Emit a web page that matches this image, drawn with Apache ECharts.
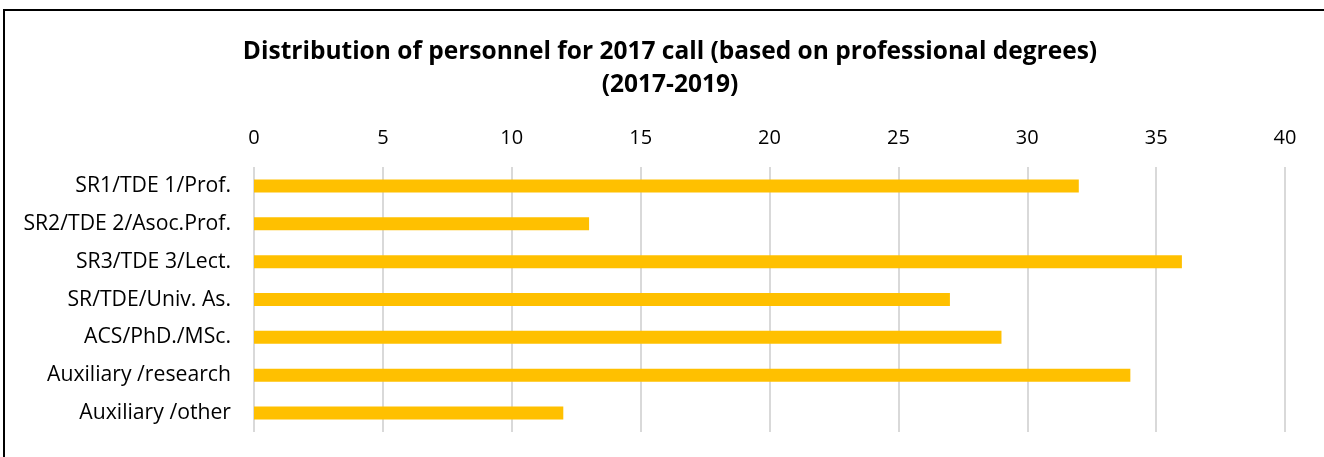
<!DOCTYPE html>
<html>
<head>
<meta charset="utf-8">
<script src="https://cdn.jsdelivr.net/npm/echarts@6/dist/echarts.min.js"></script>
<style>
  html, body { margin: 0; padding: 0; background: #fff; overflow: hidden; width: 1324px; height: 457px; }
  #frame { position: absolute; left: 3px; top: 9px; width: 2000px; height: 1000px;
           border-left: 2px solid #000; border-top: 2px solid #000; box-sizing: border-box; }
  #chart { position: absolute; left: 0; top: 0; width: 1324px; height: 457px; }
</style>
</head>
<body>
<div id="frame"></div>
<div id="chart"></div>
<script>
const categories = [
  'SR1/TDE 1/Prof.',
  'SR2/TDE 2/Asoc.Prof.',
  'SR3/TDE 3/Lect.',
  'SR/TDE/Univ. As.',
  'ACS/PhD./MSc.',
  'Auxiliary /research',
  'Auxiliary /other'
];
const personnel = [32, 13, 36, 27, 29, 34, 12];
const titleLines = [
  'Distribution of personnel for 2017 call (based on professional degrees)',
  '(2017-2019)'
];

const chart = echarts.init(document.getElementById('chart'), null, { renderer: 'canvas' });
const font = '"Open Sans", "Liberation Sans", sans-serif';

chart.setOption({
  animation: false,
  backgroundColor: 'transparent',
  title: {
    text: titleLines.join('\n'),
    left: 665,
    textAlign: 'center',
    top: 31,
    textStyle: { fontFamily: font, fontWeight: 'bold', fontSize: 24.5, lineHeight: 33, color: '#000' }
  },
  grid: { left: 254, right: 39, top: 167, bottom: 25, containLabel: false },
  xAxis: {
    type: 'value',
    position: 'top',
    min: 0,
    max: 40,
    interval: 5,
    axisLine: { show: false },
    axisTick: { show: false },
    axisLabel: { fontFamily: font, fontSize: 20, color: '#000', margin: 19 },
    splitLine: { show: true, lineStyle: { color: '#d9d9d9', width: 2 } }
  },
  yAxis: {
    type: 'category',
    data: categories,
    inverse: true,
    axisLine: { show: false },
    axisTick: { show: false },
    axisLabel: { fontFamily: font, fontSize: 21.2, color: '#000', margin: 23 }
  },
  series: [{
    type: 'bar',
    data: personnel,
    barWidth: 13,
    itemStyle: { color: '#FFC000' }
  }]
});
</script>
</body>
</html>
